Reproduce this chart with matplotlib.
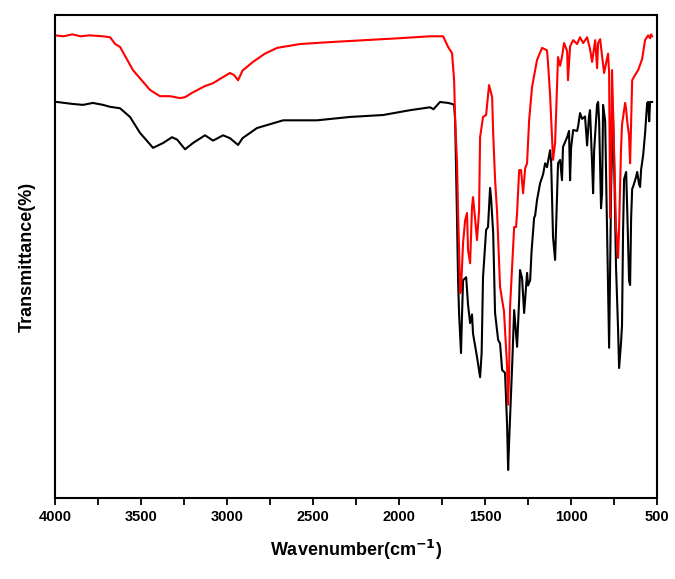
"""FTIR transmittance spectra of the two samples."""

import numpy as np
import matplotlib.pyplot as plt
from matplotlib.ticker import MultipleLocator

# red spectrum: wavenumber (cm-1) and transmittance
red_wn = [
    4000, 3950, 3900, 3850, 3800, 3721, 3680, 3650, 3622, 3547, 3448, 3390,
    3331, 3273, 3244, 3198, 3128, 3081, 3040, 2983, 2960, 2936, 2910, 2849,
    2780, 2709, 2576, 2400, 2200, 2000, 1820, 1744, 1715, 1692, 1680, 1674,
    1663, 1657, 1651, 1645, 1640, 1628, 1616, 1605, 1599, 1587, 1576, 1570,
    1558, 1547, 1535, 1529, 1512, 1494, 1477, 1459, 1453, 1442, 1430, 1413,
    1401, 1390, 1372, 1366, 1360, 1355, 1343, 1331, 1320, 1314, 1302, 1291,
    1279, 1267, 1256, 1244, 1227, 1198, 1169, 1140, 1134, 1122, 1105, 1093,
    1081, 1076, 1064, 1053, 1041, 1023, 1018, 1006, 988, 965, 948, 930,
    907, 890, 878, 860, 849, 843, 831, 820, 808, 797, 785, 779,
    773, 767, 762, 750, 739, 727, 721, 710, 704, 686, 680, 674,
    663, 657, 645, 628, 610, 587, 570, 552, 541, 535, 529,
]
red_t = [
    95.8, 95.6, 96.0, 95.6, 95.8, 95.6, 95.4, 94.0, 93.4, 88.6, 84.5, 83.2,
    83.2, 82.8, 83.0, 84.0, 85.3, 85.9, 86.8, 88.0, 87.6, 86.5, 88.5, 90.3,
    92.0, 93.2, 94.0, 94.4, 94.8, 95.2, 95.6, 95.6, 93.4, 92.1, 86.5, 78.2,
    69.3, 59.0, 51.3, 42.4, 43.0, 52.8, 57.5, 59.0, 51.3, 48.6, 60.2, 62.3,
    57.8, 53.4, 59.5, 74.7, 78.9, 79.3, 85.5, 83.0, 75.6, 66.0, 59.0, 43.7,
    41.0, 38.6, 27.1, 19.3, 26.0, 39.5, 47.8, 56.1, 56.1, 59.0, 67.9, 67.9,
    63.1, 68.3, 69.3, 78.2, 85.1, 90.7, 93.2, 92.7, 90.0, 83.4, 70.0, 73.5,
    86.5, 91.3, 89.5, 91.3, 94.2, 92.5, 86.5, 93.5, 94.8, 94.0, 95.4, 94.2,
    95.4, 93.0, 90.3, 94.8, 89.0, 94.2, 95.0, 91.5, 88.0, 90.0, 92.0, 88.0,
    58.0, 70.0, 88.6, 72.0, 56.0, 49.7, 56.0, 72.0, 77.3, 81.8, 80.5, 78.0,
    75.0, 69.3, 86.5, 87.6, 88.6, 90.9, 94.8, 95.8, 95.2, 96.0, 95.6,
]

# black spectrum
black_wn = [
    4000, 3988, 3900, 3837, 3780, 3721, 3680, 3622, 3564, 3506, 3430, 3372,
    3320, 3290, 3244, 3198, 3128, 3081, 3023, 2983, 2936, 2910, 2826, 2674,
    2477, 2285, 2093, 1936, 1820, 1800, 1762, 1715, 1692, 1680, 1674, 1669,
    1663, 1657, 1651, 1640, 1634, 1628, 1610, 1599, 1587, 1576, 1570, 1547,
    1529, 1520, 1512, 1494, 1483, 1471, 1465, 1453, 1442, 1424, 1413, 1401,
    1384, 1372, 1366, 1360, 1343, 1331, 1314, 1302, 1297, 1285, 1273, 1256,
    1250, 1238, 1230, 1215, 1209, 1198, 1180, 1163, 1151, 1140, 1122, 1116,
    1105, 1093, 1084, 1076, 1064, 1053, 1047, 1023, 1012, 1006, 1000, 988,
    965, 959, 948, 936, 919, 907, 896, 890, 878, 872, 866, 849,
    843, 837, 826, 820, 814, 802, 797, 785, 779, 773, 767, 756,
    750, 739, 727, 721, 710, 704, 698, 692, 680, 674, 663, 657,
    651, 645, 640, 622, 616, 605, 599, 593, 581, 570, 558, 552,
    546, 541, 535, 529,
]
black_t = [
    82.0, 82.0, 81.6, 81.4, 81.8, 81.4, 81.0, 80.7, 78.9, 75.6, 72.5, 73.5,
    74.7, 74.2, 72.2, 73.5, 75.1, 74.0, 75.1, 74.5, 73.1, 74.5, 76.6, 78.2,
    78.2, 78.9, 79.3, 80.3, 80.9, 80.5, 82.0, 81.8, 81.6, 81.4, 78.2, 69.3,
    57.5, 45.0, 38.0, 30.0, 38.0, 45.1, 45.7, 40.0, 36.2, 38.0, 34.0, 29.2,
    25.0, 30.0, 45.7, 55.5, 56.1, 64.2, 62.0, 54.9, 38.3, 32.7, 32.0, 26.5,
    25.9, 15.0, 5.8, 12.0, 27.1, 38.9, 31.3, 41.0, 47.2, 45.5, 38.3, 46.6,
    44.0, 45.1, 51.0, 58.0, 58.5, 61.7, 65.2, 67.0, 69.3, 68.5, 72.0, 69.5,
    54.0, 49.3, 60.0, 69.3, 70.0, 65.8, 72.7, 74.7, 76.0, 65.8, 72.5, 76.2,
    76.0, 77.0, 79.7, 78.5, 79.0, 73.0, 79.0, 80.3, 69.3, 63.1, 72.0, 81.5,
    82.0, 78.0, 60.0, 63.0, 81.4, 78.0, 68.0, 45.0, 31.1, 48.0, 65.0, 78.5,
    70.0, 48.0, 35.0, 26.9, 32.0, 35.8, 55.0, 66.0, 67.5, 60.0, 45.0, 44.1,
    58.0, 64.0, 64.4, 66.5, 67.5, 65.0, 64.4, 68.0, 71.0, 75.5, 81.8, 82.0,
    78.0, 82.0, 82.0, 82.0,
]

plt.rcParams['font.family'] = ['Liberation Sans', 'DejaVu Sans']

fig = plt.figure(figsize=(6.75, 5.79), dpi=100)
ax = fig.add_axes([0.0815, 0.140, 0.892, 0.834])

ax.plot(black_wn, black_t, color='black', lw=1.5)
ax.plot(red_wn, red_t, color='red', lw=1.5)

ax.set_xlim(4000, 500)
ax.set_ylim(0, 100)
ax.xaxis.set_major_locator(MultipleLocator(500))
ax.xaxis.set_minor_locator(MultipleLocator(250))
ax.set_yticks([])
ax.tick_params(axis='x', which='major', length=5, width=1.3, labelsize=10.5)
ax.tick_params(axis='x', which='minor', length=5, width=1.3)
for lbl in ax.get_xticklabels():
    lbl.set_fontweight('bold')
for sp in ax.spines.values():
    sp.set_linewidth(1.5)

ax.set_xlabel('Wavenumber(cm$^{\\mathbf{-1}}$)', fontsize=13, fontweight='bold',
              labelpad=10)
ax.set_ylabel('Transmittance(%)', fontsize=13, fontweight='bold', labelpad=14)

fig.savefig('out.png', dpi=100)
